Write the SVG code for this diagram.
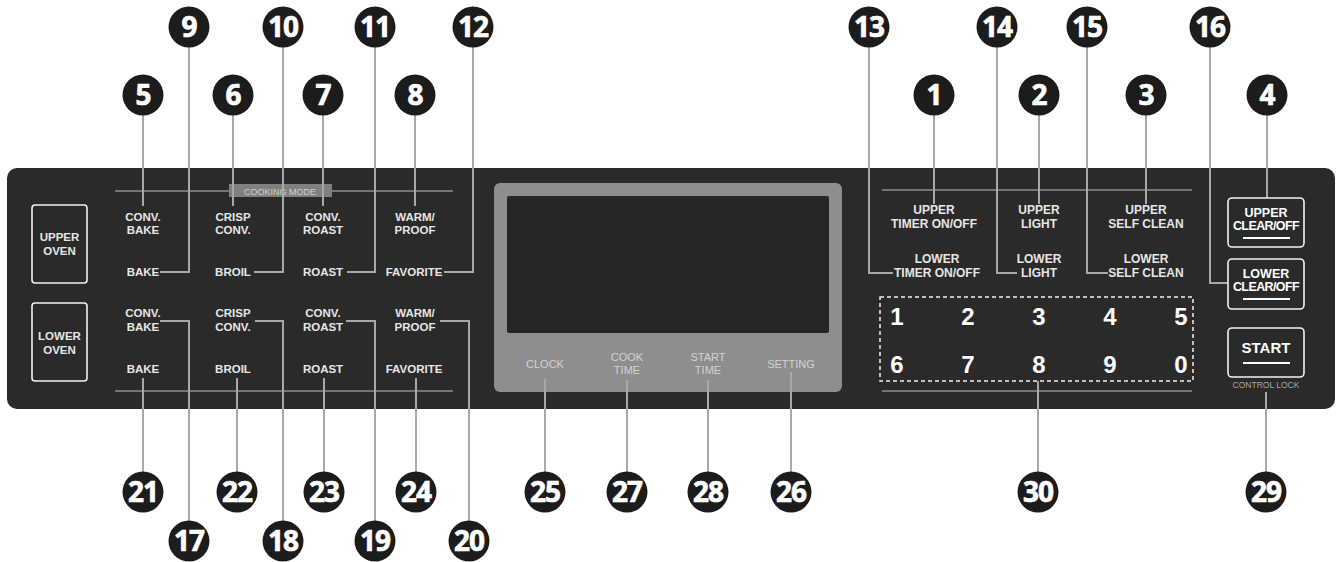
<svg xmlns="http://www.w3.org/2000/svg" width="1340" height="562" viewBox="0 0 1340 562">
<style>
.lbl{font-family:"Liberation Sans",Arial,sans-serif;font-weight:bold;font-size:11.5px;fill:#e6e6e6;text-anchor:middle}
.rl{font-family:"Liberation Sans",Arial,sans-serif;font-weight:bold;font-size:12px;fill:#e6e6e6;text-anchor:middle}
.dl{font-family:"Liberation Sans",Arial,sans-serif;font-size:11px;fill:#d2d2d2;text-anchor:middle}
.btn{fill:none;stroke:#f2f2f2;stroke-width:1.6}
.bt{font-family:"Liberation Sans",Arial,sans-serif;font-weight:bold;font-size:12.5px;fill:#fff;text-anchor:middle}
.dig{font-family:"Liberation Sans",Arial,sans-serif;font-weight:bold;font-size:24px;fill:#fff;text-anchor:middle}
.sep{stroke:#8c8c8c;stroke-width:1.5}
.con{fill:none;stroke:#a8a8a8;stroke-width:2}
.cc{fill:#1c1c1c}
.ct{font-family:"Open Sans","Liberation Sans",sans-serif;font-weight:bold;font-size:28px;fill:#fff;stroke:#fff;stroke-width:0.7;text-anchor:middle;letter-spacing:-1px}
</style>
<rect x="7" y="168" width="1328" height="241" rx="10" fill="#2a2a2a"/>
<line class="sep" x1="115" y1="191" x2="453" y2="191"/>
<line class="sep" x1="115" y1="391" x2="453" y2="391"/>
<line class="sep" x1="882" y1="190" x2="1192" y2="190"/>
<line class="sep" x1="882" y1="391" x2="1192" y2="391"/>
<g id="cooking-mode">
<rect x="229" y="184" width="103" height="13" fill="#808080"/>
<text x="280" y="194.5" style="font-family:'Liberation Sans',Arial,sans-serif;font-size:9px;fill:#d0d0d0;text-anchor:middle">COOKING MODE</text>
</g>
<g id="display">
<rect x="494" y="183" width="348" height="209" rx="6" fill="#8e8e8e"/>
<rect x="507" y="196" width="322" height="137" rx="2" fill="#262626"/>
<text class="dl" x="545" y="368">CLOCK</text>
<text class="dl" x="627" y="361">COOK</text><text class="dl" x="627" y="374">TIME</text>
<text class="dl" x="708" y="361">START</text><text class="dl" x="708" y="374">TIME</text>
<text class="dl" x="791" y="368">SETTING</text>
</g>
<g id="connectors">
<path class="con" d="M189,47V272H160"/>
<path class="con" d="M283,47V272H254"/>
<path class="con" d="M375,47V272H347"/>
<path class="con" d="M473,47V272H444"/>
<path class="con" d="M143,115V206"/>
<path class="con" d="M233,115V206"/>
<path class="con" d="M323,115V206"/>
<path class="con" d="M415,115V206"/>
<path class="con" d="M869,47V273H893"/>
<path class="con" d="M997,47V273H1017"/>
<path class="con" d="M1087,47V273H1108"/>
<path class="con" d="M1210,47V283H1228"/>
<path class="con" d="M934,115V204"/>
<path class="con" d="M1039,115V204"/>
<path class="con" d="M1146,115V204"/>
<path class="con" d="M1267,115V198"/>
<path class="con" d="M160,321H189V522"/>
<path class="con" d="M255,321H283V522"/>
<path class="con" d="M346,321H375V522"/>
<path class="con" d="M440,321H469V522"/>
<path class="con" d="M143,378V472"/>
<path class="con" d="M237,378V472"/>
<path class="con" d="M324,378V472"/>
<path class="con" d="M416,378V472"/>
<path class="con" d="M545,379V472"/>
<path class="con" d="M627,380V472"/>
<path class="con" d="M708,380V472"/>
<path class="con" d="M791,372V472"/>
<path class="con" d="M1038,381V472"/>
<path class="con" d="M1266,392V472"/>
</g>
<g id="upper-oven"><rect class="btn" x="32" y="205" width="55" height="78" rx="3"/><text class="lbl" x="59.5" y="241">UPPER</text><text class="lbl" x="59.5" y="255">OVEN</text></g>
<g id="lower-oven"><rect class="btn" x="32" y="303" width="55" height="78" rx="3"/><text class="lbl" x="59.5" y="340">LOWER</text><text class="lbl" x="59.5" y="354">OVEN</text></g>
<g id="u-conv-bake"><text class="lbl" x="143" y="221">CONV.</text><text class="lbl" x="143" y="234">BAKE</text></g>
<g id="u-crisp-conv"><text class="lbl" x="233" y="221">CRISP</text><text class="lbl" x="233" y="234">CONV.</text></g>
<g id="u-conv-roast"><text class="lbl" x="323" y="221">CONV.</text><text class="lbl" x="323" y="234">ROAST</text></g>
<g id="u-warm-proof"><text class="lbl" x="415" y="221">WARM/</text><text class="lbl" x="415" y="234">PROOF</text></g>
<g id="u-bake"><text class="lbl" x="143" y="276">BAKE</text></g>
<g id="u-broil"><text class="lbl" x="233" y="276">BROIL</text></g>
<g id="u-roast"><text class="lbl" x="323" y="276">ROAST</text></g>
<g id="u-favorite"><text class="lbl" x="414" y="276">FAVORITE</text></g>
<g id="l-conv-bake"><text class="lbl" x="143" y="317">CONV.</text><text class="lbl" x="143" y="331">BAKE</text></g>
<g id="l-crisp-conv"><text class="lbl" x="233" y="317">CRISP</text><text class="lbl" x="233" y="331">CONV.</text></g>
<g id="l-conv-roast"><text class="lbl" x="323" y="317">CONV.</text><text class="lbl" x="323" y="331">ROAST</text></g>
<g id="l-warm-proof"><text class="lbl" x="415" y="317">WARM/</text><text class="lbl" x="415" y="331">PROOF</text></g>
<g id="l-bake"><text class="lbl" x="143" y="373">BAKE</text></g>
<g id="l-broil"><text class="lbl" x="233" y="373">BROIL</text></g>
<g id="l-roast"><text class="lbl" x="323" y="373">ROAST</text></g>
<g id="l-favorite"><text class="lbl" x="414" y="373">FAVORITE</text></g>
<g id="upper-timer"><text class="rl" x="934" y="214">UPPER</text><text class="rl" x="934" y="228">TIMER ON/OFF</text></g>
<g id="upper-light"><text class="rl" x="1039" y="214">UPPER</text><text class="rl" x="1039" y="228">LIGHT</text></g>
<g id="upper-self-clean"><text class="rl" x="1146" y="214">UPPER</text><text class="rl" x="1146" y="228">SELF CLEAN</text></g>
<g id="lower-timer"><text class="rl" x="937" y="263">LOWER</text><text class="rl" x="937" y="277">TIMER ON/OFF</text></g>
<g id="lower-light"><text class="rl" x="1039" y="263">LOWER</text><text class="rl" x="1039" y="277">LIGHT</text></g>
<g id="lower-self-clean"><text class="rl" x="1146" y="263">LOWER</text><text class="rl" x="1146" y="277">SELF CLEAN</text></g>
<g id="upper-clear"><rect class="btn" x="1228" y="198" width="76" height="49" rx="4"/><text class="bt" x="1266" y="217">UPPER</text><text class="bt" x="1266" y="230" style="letter-spacing:-0.6px">CLEAR/OFF</text><line x1="1243" y1="238" x2="1290" y2="238" stroke="#fff" stroke-width="2"/></g>
<g id="lower-clear"><rect class="btn" x="1228" y="259" width="76" height="50" rx="4"/><text class="bt" x="1266" y="278">LOWER</text><text class="bt" x="1266" y="291" style="letter-spacing:-0.6px">CLEAR/OFF</text><line x1="1243" y1="299" x2="1290" y2="299" stroke="#fff" stroke-width="2"/></g>
<g id="start"><rect class="btn" x="1228" y="328" width="76" height="49" rx="4"/><text class="bt" x="1266" y="353" style="font-size:15px">START</text><line x1="1243" y1="363" x2="1290" y2="363" stroke="#fff" stroke-width="2"/><text x="1266" y="388" style="font-family:'Liberation Sans',Arial,sans-serif;font-size:8.5px;fill:#a8a8a8;text-anchor:middle">CONTROL LOCK</text></g>
<g id="keypad">
<rect x="880" y="297" width="313" height="84" fill="none" stroke="#f0f0f0" stroke-width="1.5" stroke-dasharray="4,3"/>
<text class="dig" x="897" y="325">1</text><text class="dig" x="968" y="325">2</text><text class="dig" x="1039" y="325">3</text><text class="dig" x="1110" y="325">4</text><text class="dig" x="1181" y="325">5</text>
<text class="dig" x="897" y="373">6</text><text class="dig" x="968" y="373">7</text><text class="dig" x="1039" y="373">8</text><text class="dig" x="1110" y="373">9</text><text class="dig" x="1181" y="373">0</text>
</g>
<g id="c1"><circle class="cc" cx="934" cy="95" r="20.5"/><text class="ct" x="934" y="105">1</text></g>
<g id="c2"><circle class="cc" cx="1039" cy="95" r="20.5"/><text class="ct" x="1039" y="105">2</text></g>
<g id="c3"><circle class="cc" cx="1146" cy="95" r="20.5"/><text class="ct" x="1146" y="105">3</text></g>
<g id="c4"><circle class="cc" cx="1267" cy="95" r="20.5"/><text class="ct" x="1267" y="105">4</text></g>
<g id="c5"><circle class="cc" cx="143" cy="95" r="20.5"/><text class="ct" x="143" y="105">5</text></g>
<g id="c6"><circle class="cc" cx="233" cy="95" r="20.5"/><text class="ct" x="233" y="105">6</text></g>
<g id="c7"><circle class="cc" cx="323" cy="95" r="20.5"/><text class="ct" x="323" y="105">7</text></g>
<g id="c8"><circle class="cc" cx="415" cy="95" r="20.5"/><text class="ct" x="415" y="105">8</text></g>
<g id="c9"><circle class="cc" cx="189" cy="27" r="20.5"/><text class="ct" x="189" y="37">9</text></g>
<g id="c10"><circle class="cc" cx="283" cy="27" r="20.5"/><text class="ct" x="283" y="37">10</text></g>
<g id="c11"><circle class="cc" cx="375" cy="27" r="20.5"/><text class="ct" x="375" y="37">11</text></g>
<g id="c12"><circle class="cc" cx="473" cy="27" r="20.5"/><text class="ct" x="473" y="37">12</text></g>
<g id="c13"><circle class="cc" cx="869" cy="27" r="20.5"/><text class="ct" x="869" y="37">13</text></g>
<g id="c14"><circle class="cc" cx="997" cy="27" r="20.5"/><text class="ct" x="997" y="37">14</text></g>
<g id="c15"><circle class="cc" cx="1087" cy="27" r="20.5"/><text class="ct" x="1087" y="37">15</text></g>
<g id="c16"><circle class="cc" cx="1210" cy="27" r="20.5"/><text class="ct" x="1210" y="37">16</text></g>
<g id="c17"><circle class="cc" cx="189" cy="541" r="20.5"/><text class="ct" x="189" y="551">17</text></g>
<g id="c18"><circle class="cc" cx="283" cy="541" r="20.5"/><text class="ct" x="283" y="551">18</text></g>
<g id="c19"><circle class="cc" cx="375" cy="541" r="20.5"/><text class="ct" x="375" y="551">19</text></g>
<g id="c20"><circle class="cc" cx="469" cy="541" r="20.5"/><text class="ct" x="469" y="551">20</text></g>
<g id="c21"><circle class="cc" cx="143" cy="492" r="20.5"/><text class="ct" x="143" y="502">21</text></g>
<g id="c22"><circle class="cc" cx="237" cy="492" r="20.5"/><text class="ct" x="237" y="502">22</text></g>
<g id="c23"><circle class="cc" cx="324" cy="492" r="20.5"/><text class="ct" x="324" y="502">23</text></g>
<g id="c24"><circle class="cc" cx="416" cy="492" r="20.5"/><text class="ct" x="416" y="502">24</text></g>
<g id="c25"><circle class="cc" cx="545" cy="492" r="20.5"/><text class="ct" x="545" y="502">25</text></g>
<g id="c26"><circle class="cc" cx="791" cy="492" r="20.5"/><text class="ct" x="791" y="502">26</text></g>
<g id="c27"><circle class="cc" cx="627" cy="492" r="20.5"/><text class="ct" x="627" y="502">27</text></g>
<g id="c28"><circle class="cc" cx="708" cy="492" r="20.5"/><text class="ct" x="708" y="502">28</text></g>
<g id="c29"><circle class="cc" cx="1266" cy="492" r="20.5"/><text class="ct" x="1266" y="502">29</text></g>
<g id="c30"><circle class="cc" cx="1038" cy="492" r="20.5"/><text class="ct" x="1038" y="502">30</text></g>
</svg>
